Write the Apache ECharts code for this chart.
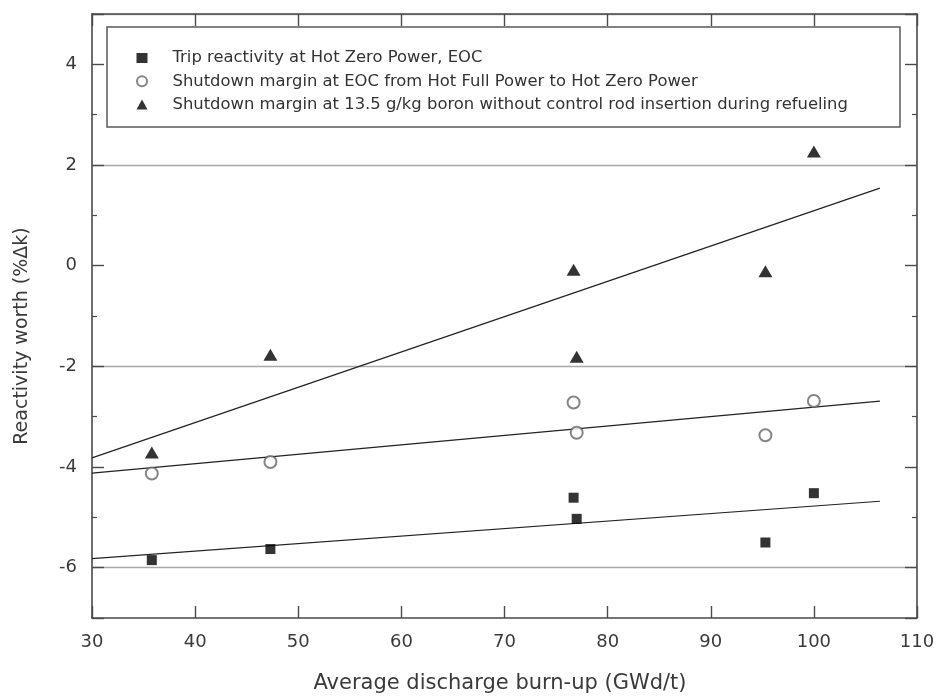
<!DOCTYPE html>
<html>
<head>
<meta charset="utf-8">
<script src="https://cdn.jsdelivr.net/npm/echarts@6/dist/echarts.min.js"></script>
<style>
  html, body { margin: 0; padding: 0; background: #fff; }
  #chart { width: 938px; height: 699px; }
</style>
</head>
<body>
<div id="chart"></div>
<script>
// Average discharge burn-up (GWd/t) of each core
const burnup = [35.8, 47.3, 76.7, 77.0, 95.3, 100];
// Reactivity worth (%Δk)
const tripHZP = [-5.85, -5.63, -4.61, -5.03, -5.50, -4.52];
const marginHFP = [-4.13, -3.90, -2.72, -3.32, -3.37, -2.69];
const marginBoron = [-3.71, -1.77, -0.08, -1.81, -0.11, 2.27];

// Linear trend lines (end points)
const trendX = [30, 106.4];
const tripTrend = [-5.82, -4.68];
const marginTrend = [-4.12, -2.69];
const boronTrend = [-3.82, 1.54];

const seriesNames = [
  'Trip reactivity at Hot Zero Power, EOC',
  'Shutdown margin at EOC from Hot Full Power to Hot Zero Power',
  'Shutdown margin at 13.5 g/kg boron without control rod insertion during refueling'
];

// Axis ticks
const xTickLabels = [30, 40, 50, 60, 70, 80, 90, 100, 110];
const yTickLabels = [-6, -4, -2, 0, 2, 4];
const yRange = [-7, 5];

const FONT = "'DejaVu Sans', 'Liberation Sans', Arial, sans-serif";
const AXIS = '#4a4a4a';
const TEXT = '#3a3a3a';

const zip = (xs, ys) => xs.map((x, i) => [x, ys[i]]);

const xBase = {
  type: 'value',
  min: xTickLabels[0],
  max: xTickLabels[xTickLabels.length - 1],
  interval: xTickLabels[1] - xTickLabels[0],
  axisLine: { show: true, onZero: false, lineStyle: { color: AXIS, width: 1.6 } },
  axisTick: { show: true, inside: true, length: 12, lineStyle: { color: AXIS, width: 1.4 } },
  splitLine: { show: false }
};

const yBase = {
  type: 'value',
  min: yRange[0],
  max: yRange[1],
  splitNumber: 6,
  minInterval: 2,
  maxInterval: 2,
  axisLine: { show: true, onZero: false, lineStyle: { color: AXIS, width: 1.6 } },
  axisTick: { show: true, inside: true, length: 12, lineStyle: { color: AXIS, width: 1.4 } },
  minorTick: { show: true, splitNumber: 2, length: 5, lineStyle: { color: AXIS, width: 1.2 } },
  splitLine: { show: false }
};

const chart = echarts.init(document.getElementById('chart'), null, { renderer: 'canvas' });

chart.setOption({
  backgroundColor: '#fff',
  animation: false,
  textStyle: { fontFamily: FONT },
  grid: { left: 92, right: 21, top: 14, bottom: 79, containLabel: false },
  graphic: [{
    type: 'rect',
    z: 3,
    shape: { x: 107, y: 27, width: 793, height: 100 },
    style: { fill: '#fff', stroke: '#5a5a5a', lineWidth: 1.5 }
  }],
  legend: {
    z: 5,
    orient: 'vertical',
    left: 136,
    top: 48,
    itemGap: 3.3,
    itemWidth: 11,
    itemHeight: 10,
    padding: 0,
    textStyle: { fontFamily: FONT, fontSize: 16.4, color: '#333', lineHeight: 20, padding: [0, 0, 0, 20] },
    data: [
      { name: seriesNames[0], icon: 'rect', itemStyle: { color: '#000' } },
      { name: seriesNames[1], icon: 'emptyCircle' },
      { name: seriesNames[2], icon: 'triangle', itemStyle: { color: '#000' } }
    ]
  },
  xAxis: [
    Object.assign({}, xBase, {
      position: 'bottom',
      name: 'Average discharge burn-up (GWd/t)',
      nameLocation: 'middle',
      nameGap: 55,
      nameTextStyle: { fontFamily: FONT, fontSize: 21, color: TEXT, padding: [0, 9, 0, 0] },
      axisLabel: { margin: 15, fontFamily: FONT, fontSize: 18, color: TEXT }
    }),
    Object.assign({}, xBase, { position: 'top', axisLabel: { show: false } })
  ],
  yAxis: [
    Object.assign({}, yBase, {
      position: 'left',
      name: 'Reactivity worth (%Δk)',
      nameLocation: 'middle',
      nameGap: 60,
      nameTextStyle: { fontFamily: FONT, fontSize: 19, color: TEXT, padding: [0, 40, 0, 0] },
      axisLabel: {
        margin: 15, fontFamily: FONT, fontSize: 18, color: TEXT,
        showMinLabel: false, showMaxLabel: false,
        formatter: v => (yTickLabels.includes(v) ? String(v) : '')
      },
      splitLine: { show: true, lineStyle: { color: ['transparent', '#a8a8a8'], width: 1.3 } }
    }),
    Object.assign({}, yBase, { position: 'right', axisLabel: { show: false } })
  ],
  series: [
    {
      name: seriesNames[0], type: 'scatter', symbol: 'rect', symbolSize: 10, z: 6,
      itemStyle: { color: '#000' },
      data: zip(burnup, tripHZP)
    },
    {
      name: seriesNames[1], type: 'scatter', symbol: 'emptyCircle', symbolSize: 12, z: 6,
      itemStyle: { color: '#666', borderWidth: 1 },
      data: zip(burnup, marginHFP)
    },
    {
      name: seriesNames[2], type: 'scatter', symbol: 'triangle', symbolSize: [14, 12], z: 6,
      itemStyle: { color: '#000' },
      data: zip(burnup, marginBoron)
    },
    { type: 'line', symbol: 'none', silent: true, z: 4, lineStyle: { color: '#222', width: 1.2 }, data: zip(trendX, tripTrend) },
    { type: 'line', symbol: 'none', silent: true, z: 4, lineStyle: { color: '#222', width: 1.2 }, data: zip(trendX, marginTrend) },
    { type: 'line', symbol: 'none', silent: true, z: 4, lineStyle: { color: '#222', width: 1.2 }, data: zip(trendX, boronTrend) }
  ]
});
</script>
</body>
</html>
